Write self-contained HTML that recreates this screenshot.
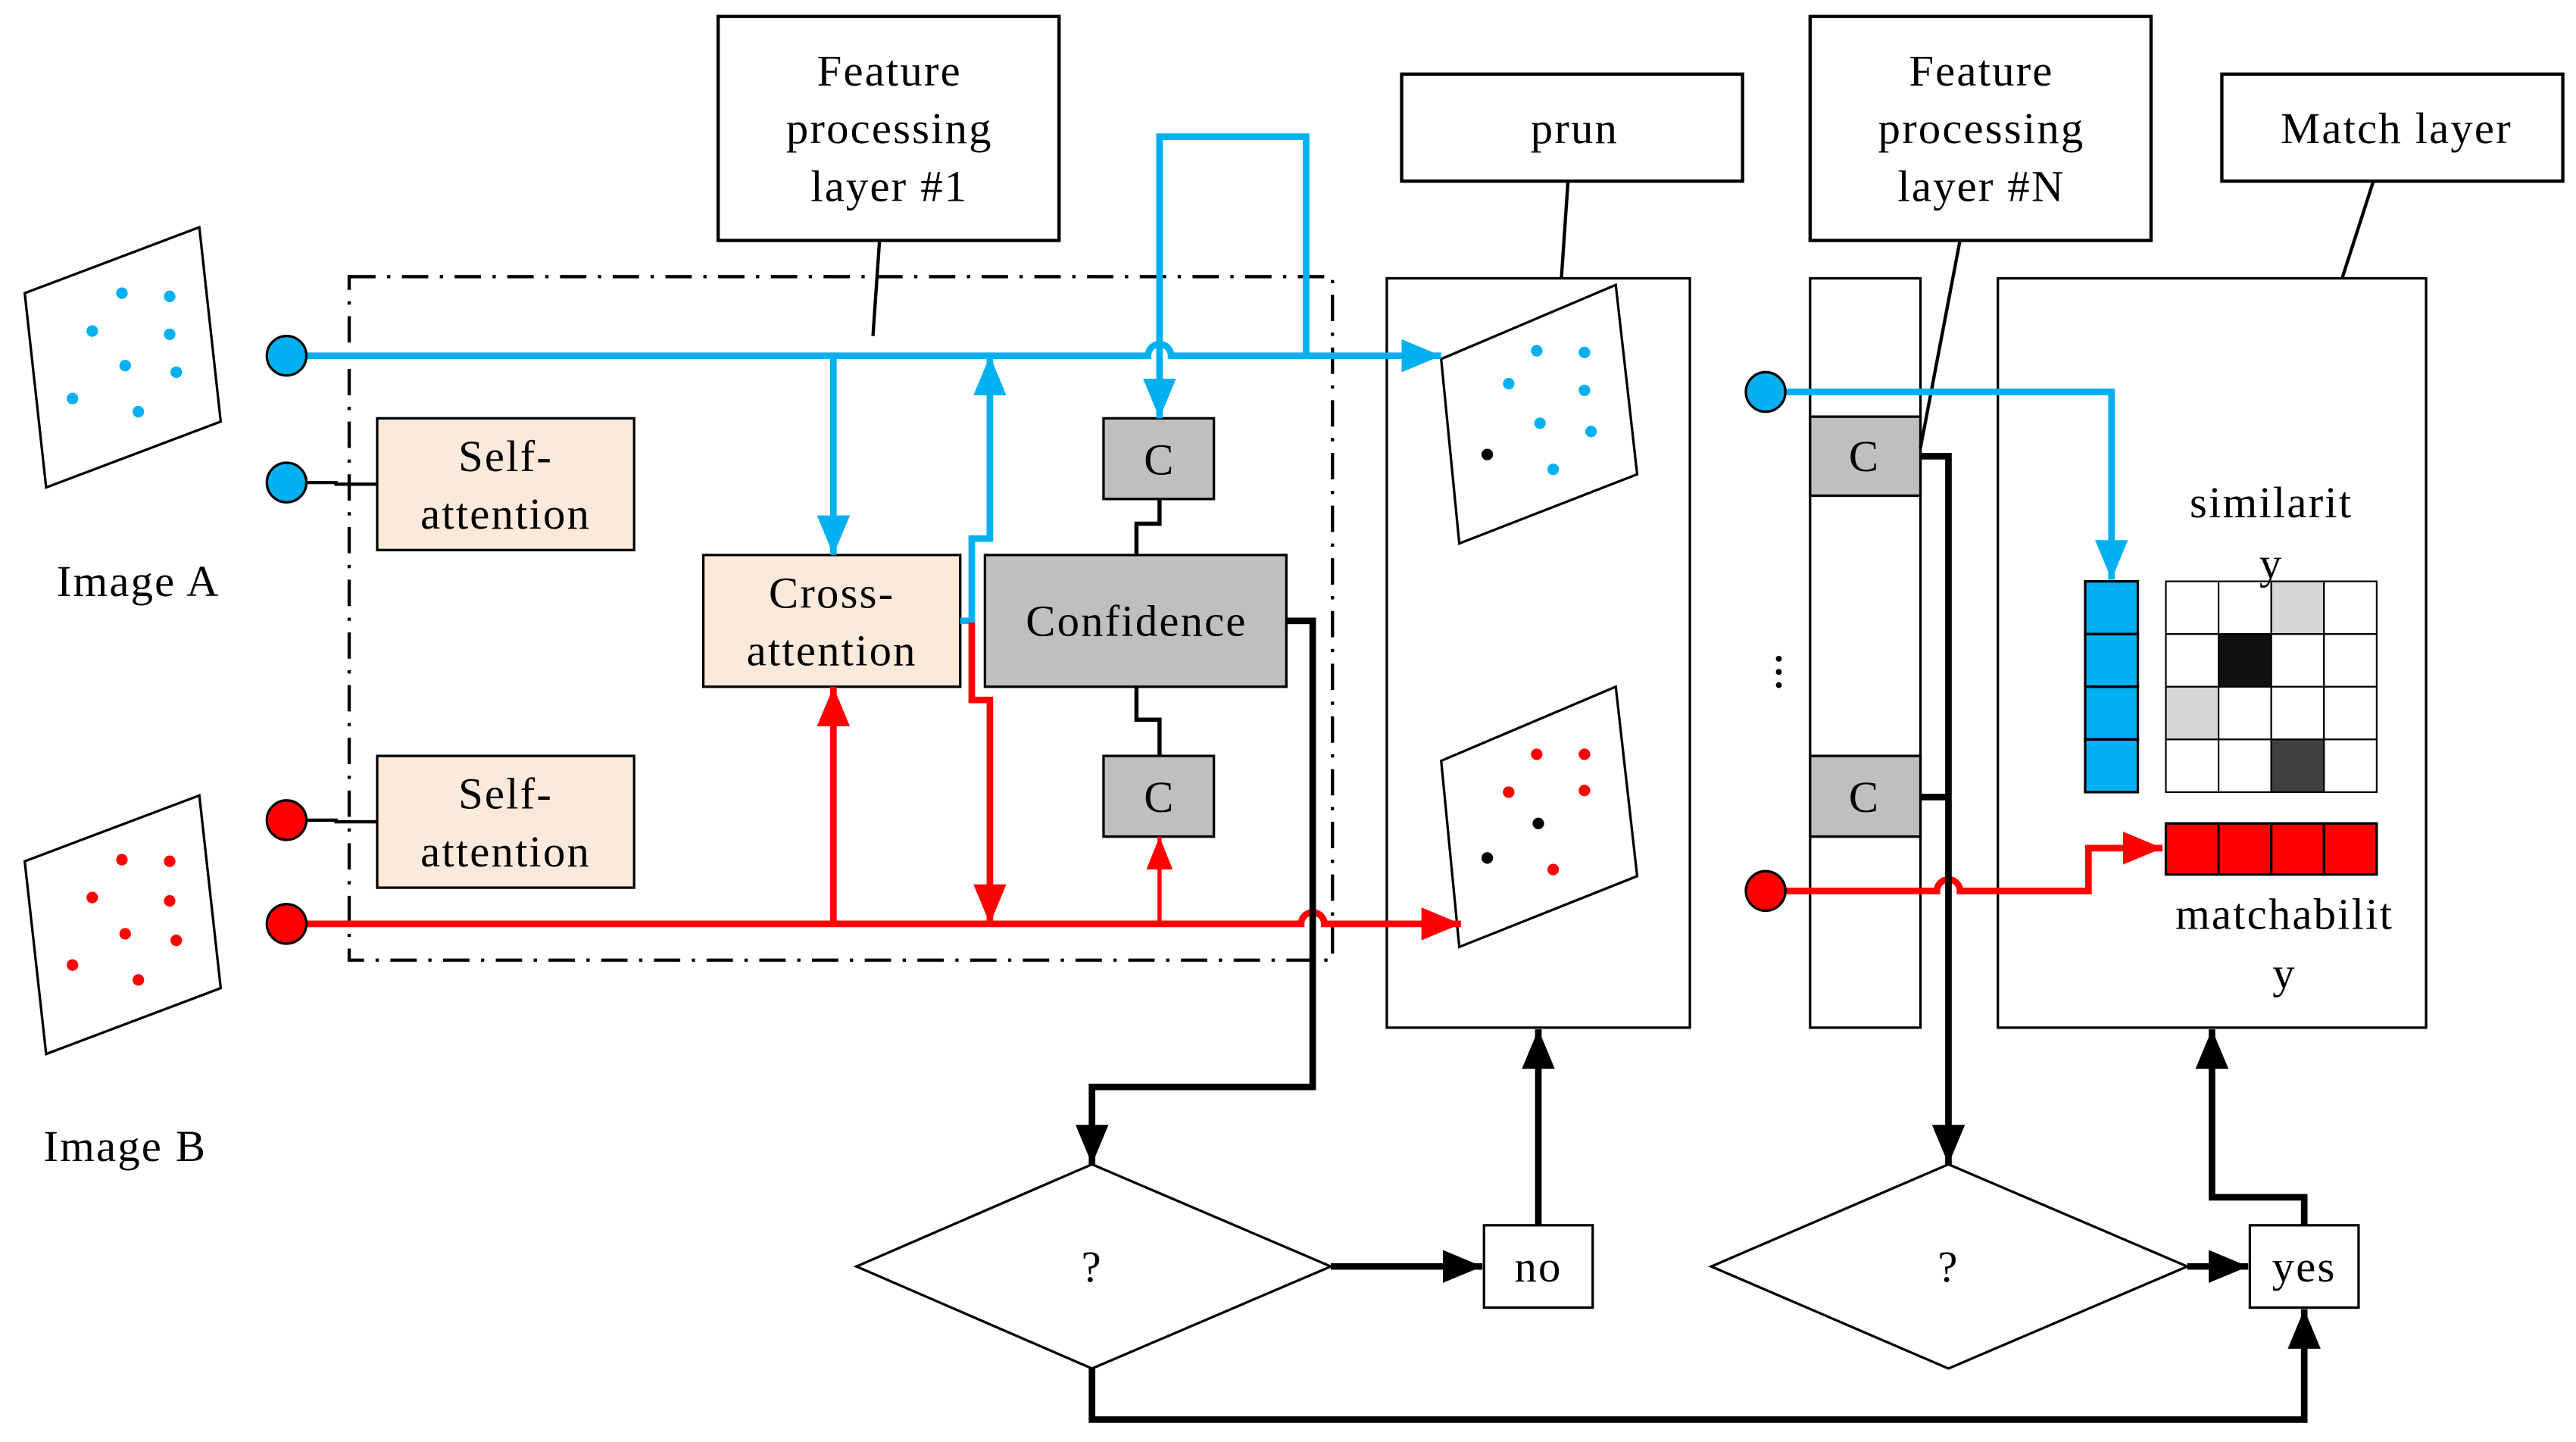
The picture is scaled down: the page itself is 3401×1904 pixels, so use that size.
<!DOCTYPE html>
<html><head><meta charset="utf-8"><style>
html,body{margin:0;padding:0;background:#fff}
svg{display:block}
text{font-family:"Liberation Serif",serif;font-size:27px;letter-spacing:1px;fill:#000;text-anchor:middle}
</style></head><body>
<svg width="3401" height="1904" viewBox="0 0 1564 875.6" xmlns="http://www.w3.org/2000/svg">
<defs>
<marker id="ab" markerUnits="userSpaceOnUse" markerWidth="26" markerHeight="20" refX="24" refY="10" orient="auto"><path d="M0,0 L24,10 L0,20 Z" fill="#00b0f0"/></marker>
<marker id="ar" markerUnits="userSpaceOnUse" markerWidth="26" markerHeight="20" refX="24" refY="10" orient="auto"><path d="M0,0 L24,10 L0,20 Z" fill="#ff0000"/></marker>
<marker id="ars" markerUnits="userSpaceOnUse" markerWidth="22" markerHeight="16" refX="20" refY="8" orient="auto"><path d="M0,0 L20,8 L0,16 Z" fill="#ff0000"/></marker>
<marker id="ak" markerUnits="userSpaceOnUse" markerWidth="26" markerHeight="20" refX="24" refY="10" orient="auto"><path d="M0,0 L24,10 L0,20 Z" fill="#000"/></marker>
</defs>

<polygon points="15,178 121,138 134,256 28,296" fill="#fff" stroke="#000" stroke-width="1.5"/>
<g fill="#00b0f0"><circle cx="74" cy="178" r="3.5"/><circle cx="103" cy="180" r="3.5"/><circle cx="56" cy="201" r="3.5"/><circle cx="103" cy="203" r="3.5"/><circle cx="76" cy="222" r="3.5"/><circle cx="107" cy="226" r="3.5"/><circle cx="44" cy="242" r="3.5"/><circle cx="84" cy="250" r="3.5"/></g>
<polygon points="15,523 121,483 134,600 28,640" fill="#fff" stroke="#000" stroke-width="1.5"/>
<g fill="#ff0000"><circle cx="74" cy="522" r="3.5"/><circle cx="103" cy="523" r="3.5"/><circle cx="56" cy="545" r="3.5"/><circle cx="103" cy="547" r="3.5"/><circle cx="76" cy="567" r="3.5"/><circle cx="107" cy="571" r="3.5"/><circle cx="44" cy="586" r="3.5"/><circle cx="84" cy="595" r="3.5"/></g>
<text x="84" y="362">Image A</text>
<text x="76" y="705">Image B</text>

<rect x="212" y="168" width="597" height="415" fill="none" stroke="#000" stroke-width="2" stroke-dasharray="16,7,2,7"/>

<rect x="436" y="10" width="207" height="136" fill="#fff" stroke="#000" stroke-width="2"/>
<text x="540" y="52">Feature</text><text x="540" y="87">processing</text><text x="540" y="122">layer #1</text>
<line x1="534" y1="146" x2="530" y2="204" stroke="#000" stroke-width="2"/>
<rect x="851" y="45" width="207" height="65" fill="#fff" stroke="#000" stroke-width="2"/>
<text x="956" y="87">prun</text>
<line x1="952" y1="110" x2="948" y2="169" stroke="#000" stroke-width="2"/>
<rect x="1099" y="10" width="207" height="136" fill="#fff" stroke="#000" stroke-width="2"/>
<text x="1203" y="52">Feature</text><text x="1203" y="87">processing</text><text x="1203" y="122">layer #N</text>
<rect x="1349" y="45" width="207" height="65" fill="#fff" stroke="#000" stroke-width="2"/>
<text x="1455" y="87">Match layer</text>
<line x1="1441" y1="110" x2="1422" y2="169" stroke="#000" stroke-width="2"/>

<rect x="229" y="254" width="156" height="80" fill="#fbe9dc" stroke="#000" stroke-width="1.5"/>
<text x="307" y="286">Self-</text><text x="307" y="321">attention</text>
<rect x="229" y="459" width="156" height="80" fill="#fbe9dc" stroke="#000" stroke-width="1.5"/>
<text x="307" y="491">Self-</text><text x="307" y="526">attention</text>
<rect x="427" y="337" width="156" height="80" fill="#fbe9dc" stroke="#000" stroke-width="1.5"/>
<text x="505" y="369">Cross-</text><text x="505" y="404">attention</text>
<rect x="598" y="337" width="183" height="80" fill="#bfbfbf" stroke="#000" stroke-width="1.5"/>
<text x="690" y="386">Confidence</text>
<rect x="670" y="254" width="67" height="49" fill="#bfbfbf" stroke="#000" stroke-width="1.5"/>
<text x="704" y="288">C</text>
<rect x="670" y="459" width="67" height="49" fill="#bfbfbf" stroke="#000" stroke-width="1.5"/>
<text x="704" y="493">C</text>
<polyline points="704,303 704,318 690,318 690,337" fill="none" stroke="#000" stroke-width="2.5"/>
<polyline points="690,417 690,437 704,437 704,459" fill="none" stroke="#000" stroke-width="2.5"/>

<rect x="842" y="169" width="184" height="455" fill="#fff" stroke="#000" stroke-width="1.5"/>
<polygon points="875,218 981,173 994,288 886,330" fill="#fff" stroke="#000" stroke-width="1.5"/>
<g fill="#00b0f0"><circle cx="933" cy="213" r="3.5"/><circle cx="962" cy="214" r="3.5"/><circle cx="916" cy="233" r="3.5"/><circle cx="962" cy="237" r="3.5"/><circle cx="935" cy="257" r="3.5"/><circle cx="966" cy="262" r="3.5"/><circle cx="943" cy="285" r="3.5"/></g>
<circle cx="903" cy="276" r="3.5" fill="#000"/>
<polygon points="875,462 981,417 994,532 886,575" fill="#fff" stroke="#000" stroke-width="1.5"/>
<g fill="#ff0000"><circle cx="933" cy="458" r="3.5"/><circle cx="962" cy="458" r="3.5"/><circle cx="916" cy="481" r="3.5"/><circle cx="962" cy="480" r="3.5"/><circle cx="943" cy="528" r="3.5"/></g>
<circle cx="934" cy="500" r="3.5" fill="#000"/><circle cx="903" cy="521" r="3.5" fill="#000"/>

<rect x="1099" y="169" width="67" height="455" fill="#fff" stroke="#000" stroke-width="1.5"/>
<rect x="1099" y="253" width="67" height="48" fill="#bfbfbf" stroke="#000" stroke-width="1.5"/>
<text x="1132" y="286">C</text>
<rect x="1099" y="459" width="67" height="49" fill="#bfbfbf" stroke="#000" stroke-width="1.5"/>
<text x="1132" y="493">C</text>
<g fill="#000"><circle cx="1080" cy="400" r="1.8"/><circle cx="1080" cy="408" r="1.8"/><circle cx="1080" cy="416" r="1.8"/></g>
<line x1="1190" y1="146" x2="1166" y2="272" stroke="#000" stroke-width="2"/>

<rect x="1213" y="169" width="260" height="455" fill="#fff" stroke="#000" stroke-width="1.5"/>
<g stroke="#000" stroke-width="1.5">
<rect x="1266" y="353" width="32" height="32" fill="#00b0f0"/><rect x="1266" y="385" width="32" height="32" fill="#00b0f0"/><rect x="1266" y="417" width="32" height="32" fill="#00b0f0"/><rect x="1266" y="449" width="32" height="32" fill="#00b0f0"/>
<rect x="1315" y="500" width="32" height="31" fill="#ff0000"/><rect x="1347" y="500" width="32" height="31" fill="#ff0000"/><rect x="1379" y="500" width="32" height="31" fill="#ff0000"/><rect x="1411" y="500" width="32" height="31" fill="#ff0000"/>
</g>
<g stroke="#000" stroke-width="1" fill="#fff">
<rect x="1315" y="353" width="32" height="32"/><rect x="1347" y="353" width="32" height="32"/><rect x="1379" y="353" width="32" height="32" fill="#d6d6d6"/><rect x="1411" y="353" width="32" height="32"/>
<rect x="1315" y="385" width="32" height="32"/><rect x="1347" y="385" width="32" height="32" fill="#111"/><rect x="1379" y="385" width="32" height="32"/><rect x="1411" y="385" width="32" height="32"/>
<rect x="1315" y="417" width="32" height="32" fill="#d6d6d6"/><rect x="1347" y="417" width="32" height="32"/><rect x="1379" y="417" width="32" height="32"/><rect x="1411" y="417" width="32" height="32"/>
<rect x="1315" y="449" width="32" height="32"/><rect x="1347" y="449" width="32" height="32"/><rect x="1379" y="449" width="32" height="32" fill="#404040"/><rect x="1411" y="449" width="32" height="32"/>
</g>
<text x="1379" y="314">similarit</text><text x="1379" y="351">y</text>
<text x="1387" y="564">matchabilit</text><text x="1387" y="600">y</text>

<g fill="none" stroke="#00b0f0" stroke-width="4">
<path d="M186,216 H697 A7,7 0 0 1 711,216 H875" marker-end="url(#ab)"/>
<polyline points="793,216 793,83 704,83 704,254" marker-end="url(#ab)"/>
<polyline points="506,216 506,337" marker-end="url(#ab)"/>
<polyline points="583,377 590,377 590,327 601,327 601,216" marker-end="url(#ab)"/>
<polyline points="1084,238 1282,238 1282,352" marker-end="url(#ab)"/>
</g>
<g fill="none" stroke="#ff0000" stroke-width="4">
<path d="M186,561 H790 A7,7 0 0 1 804,561 H887" marker-end="url(#ar)"/>
<polyline points="506,561 506,417" marker-end="url(#ar)"/>
<polyline points="590,378 590,425 601,425 601,561" marker-end="url(#ar)"/>
<polyline points="704,561 704,508" stroke-width="2.5" marker-end="url(#ars)"/>
<path d="M1084,541 H1176 A7,7 0 0 1 1190,541 H1268 V515 H1313" marker-end="url(#ar)"/>
</g>
<g stroke="#000" stroke-width="1.5">
<circle cx="174" cy="216" r="12" fill="#00b0f0"/><circle cx="174" cy="293" r="12" fill="#00b0f0"/>
<circle cx="174" cy="498" r="12" fill="#ff0000"/><circle cx="174" cy="561" r="12" fill="#ff0000"/>
<circle cx="1072" cy="238" r="12" fill="#00b0f0"/><circle cx="1072" cy="541" r="12" fill="#ff0000"/>
</g>
<polyline points="186,293 204,293 204,294 229,294" fill="none" stroke="#000" stroke-width="2"/>
<polyline points="186,498 204,498 204,499 229,499" fill="none" stroke="#000" stroke-width="2"/>

<g fill="none" stroke="#000" stroke-width="4">
<polyline points="781,377 797,377 797,660 663,660 663,707" marker-end="url(#ak)"/>
<line x1="808" y1="769" x2="900" y2="769" marker-end="url(#ak)"/>
<line x1="934" y1="744" x2="934" y2="625" marker-end="url(#ak)"/>
<polyline points="1166,277 1183,277 1183,707" marker-end="url(#ak)"/>
<line x1="1166" y1="484" x2="1183" y2="484"/>
<line x1="1328" y1="769" x2="1365" y2="769" marker-end="url(#ak)"/>
<polyline points="1399,744 1399,727 1343,727 1343,625" marker-end="url(#ak)"/>
<polyline points="663,831 663,862 1399,862 1399,795" marker-end="url(#ak)"/>
</g>

<polygon points="520,769 663,707 808,769 663,831" fill="#fff" stroke="#000" stroke-width="1.5"/>
<text x="663" y="778">?</text>
<polygon points="1039,769 1183,707 1328,769 1183,831" fill="#fff" stroke="#000" stroke-width="1.5"/>
<text x="1183" y="778">?</text>
<rect x="901" y="744" width="66" height="50" fill="#fff" stroke="#000" stroke-width="1.5"/>
<text x="934" y="778">no</text>
<rect x="1366" y="744" width="66" height="50" fill="#fff" stroke="#000" stroke-width="1.5"/>
<text x="1399" y="778">yes</text>
</svg>
</body></html>
